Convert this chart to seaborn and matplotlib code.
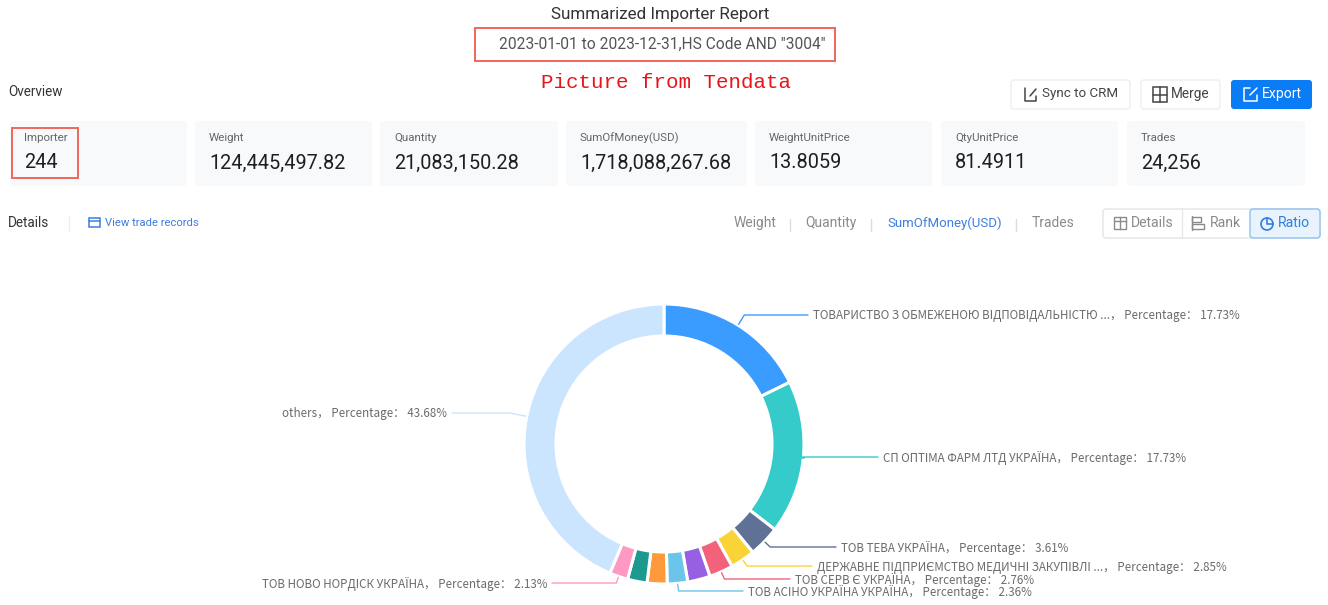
import matplotlib
matplotlib.use('Agg')
import matplotlib.pyplot as plt
import numpy as np
import seaborn as sns
from matplotlib.patches import FancyBboxPatch, Rectangle

# Data
card_names = ['Importer', 'Weight', 'Quantity', 'SumOfMoney(USD)', 'WeightUnitPrice', 'QtyUnitPrice', 'Trades']
card_values = ['244', '124,445,497.82', '21,083,150.28', '1,718,088,267.68', '13.8059', '81.4911', '24,256']
tab_names = ['Weight', 'Quantity', 'SumOfMoney(USD)', 'Trades']
slice_names = ['ТОВАРИСТВО З ОБМЕЖЕНОЮ ВІДПОВІДАЛЬНІСТЮ ...', 'СП ОПТІМА ФАРМ ЛТД УКРАЇНА', 'ТОВ ТЕВА УКРАЇНА',
               'ДЕРЖАВНЕ ПІДПРИЄМСТВО МЕДИЧНІ ЗАКУПІВЛІ ...', 'ТОВ СЕРВ Є УКРАЇНА', '', 'ТОВ АСІНО УКРАЇНА УКРАЇНА',
               '', '', 'ТОВ НОВО НОРДІСК УКРАЇНА', 'others']
slice_values = [17.73, 17.73, 3.61, 2.85, 2.76, 2.60, 2.36, 2.30, 2.25, 2.13, 43.68]
slice_colors = ['#3a9cff', '#36cbcb', '#5f7195', '#fad337', '#f2637b', '#975fe4', '#6bc5ea',
                '#ff9a3c', '#1d9a90', '#ff99c3', '#cce5ff']

# Layout (pixels, y measured from top of the picture)
W, H = 1328, 605
card_x = [(10, 187), (195, 372), (380, 558), (566, 747), (755, 932), (941, 1118), (1127, 1305)]
tab_x = [734, 805, 887, 1032]
label_y = [315, 457, 547, 566, 579, 0, 591, 0, 0, 583, 413]
line_end = [808, 878, 836, 812, 790, 0, 743, 0, 0, 552, 452]
cx, cy, outer, ring = 664, 444, 140, 32

sns.set_theme(style='white')
plt.rcParams['font.family'] = ['Roboto', 'DejaVu Sans']

fig = plt.figure(figsize=(W / 100, H / 100), dpi=100)
ax = fig.add_axes([0, 0, 1, 1])


def Y(py):
    return H - py


def label(x, py, s, size=12.5, color='#5f6368', **kw):
    # size is in pixels, Roboto sits about a pixel high when centred
    kw.setdefault('va', 'center')
    ax.text(x, Y(py + 1), s, fontsize=size * 0.72, color=color, **kw)


def box(x0, y0, x1, y1, fc='white', ec='none', lw=1, rad=3):
    ax.add_patch(FancyBboxPatch((x0, Y(y1)), x1 - x0, y1 - y0, boxstyle=f'round,pad=0,rounding_size={rad}',
                                fc=fc, ec=ec, lw=lw))


def red_box(x0, y0, x1, y1):
    ax.add_patch(Rectangle((x0, Y(y1)), x1 - x0, y1 - y0, fc='none', ec='#f0665c', lw=1.4))


# Donut
wedges, _ = ax.pie(slice_values, colors=slice_colors, startangle=90, counterclock=False,
                   center=(cx, Y(cy)), radius=outer, frame=False,
                   wedgeprops={'width': ring, 'edgecolor': 'white', 'linewidth': 2.2})
ax.set_xlim(0, W)
ax.set_ylim(0, H)
ax.set_aspect('auto')
ax.axis('off')

# Leader lines and labels
for w, name, val, ly, end, col in zip(wedges, slice_names, slice_values, label_y, line_end, slice_colors):
    if not name:
        continue
    a = np.deg2rad((w.theta1 + w.theta2) / 2)
    sx, sy = cx + (outer + 1) * np.cos(a), cy - (outer + 1) * np.sin(a)
    # elbow where the radial line reaches the label height
    if abs(np.sin(a)) > 0.05:
        ex = cx + (cy - ly) / np.sin(a) * np.cos(a)
    else:
        ex = sx
    if abs(ex - cx) < outer * 0.8 and abs(np.cos(a)) < 0.3:
        ex = sx + 1
    ax.plot([sx, ex, end], [Y(sy), Y(ly), Y(ly)], color=col, lw=1, solid_joinstyle='round')
    txt = f'{name}， Percentage： {val:.2f}%'
    if end > cx:
        label(end + 5, ly, txt, size=11.6, color='#6b6b6b', family=['Noto Sans CJK SC', 'DejaVu Sans'])
    else:
        label(end - 5, ly, txt, size=11.6, color='#6b6b6b', ha='right', family=['Noto Sans CJK SC', 'DejaVu Sans'])

# Header
label(660.5, 13, 'Summarized Importer Report', size=17, color='#333333', ha='center')
label(662, 43, '2023-01-01 to 2023-12-31,HS Code AND "3004"', size=15.5, color='#555555', ha='center')
red_box(475, 28, 835, 61)
label(666, 81, 'Picture from Tendata', size=20.8, color='#e8141c', ha='center', family=['Liberation Mono'])
label(8, 91, 'Overview', size=13.5, color='#333333')

# Buttons
box(1011, 80, 1130, 109, ec='#eeeeee')
label(1042, 93, 'Sync to CRM', size=13.4, color='#444444')
ax.plot([1025, 1025, 1036, 1036], [Y(88), Y(101), Y(101), Y(96)], color='#444444', lw=1.1)
ax.plot([1030, 1036], [Y(96), Y(89)], color='#444444', lw=1.1)
box(1141, 80, 1220, 109, ec='#eeeeee')
label(1171, 93, 'Merge', size=13.6, color='#444444')
ax.add_patch(Rectangle((1153, Y(102)), 14, 15, fc='none', ec='#444444', lw=1.1))
ax.plot([1160, 1160], [Y(87), Y(102)], color='#444444', lw=1.1)
ax.plot([1153, 1167], [Y(94.5), Y(94.5)], color='#444444', lw=1.1)
box(1231, 80, 1312, 109, fc='#0a7cf5')
label(1262, 93, 'Export', size=14, color='white')
ax.plot([1250, 1244, 1244, 1257, 1257], [Y(88), Y(88), Y(101), Y(101), Y(95)], color='white', lw=1.1)
ax.plot([1250, 1257], [Y(95), Y(88)], color='white', lw=1.1)

# Summary cards
for (x0, x1), name, val in zip(card_x, card_names, card_values):
    box(x0, 121, x1, 186, fc='#f8f9fb', rad=4)
    label(x0 + 14, 137, name, size=11.5, color='#666666')
    label(x0 + 14, 162, val, size=19.9, color='#1f1f1f')
red_box(12, 128, 78, 178)

# Details row
label(8, 222, 'Details', size=13.5, color='#333333')
ax.plot([69, 69], [Y(216), Y(231)], color='#eeeeee', lw=1)
ax.add_patch(Rectangle((89, Y(227)), 11, 9, fc='none', ec='#3f7de0', lw=1.1))
ax.plot([89, 100], [Y(221), Y(221)], color='#3f7de0', lw=1.1)
label(105, 222, 'View trade records', size=11.3, color='#3f7de0')

for x, name in zip(tab_x, tab_names):
    if name == 'SumOfMoney(USD)':
        label(x, 222, name, size=13.2, color='#3f7de0')
    else:
        label(x, 222, name, size=13.9, color='#8a8a8a')
for x in [790, 871, 1016]:
    ax.plot([x, x], [Y(219), Y(231)], color='#dddddd', lw=1)

# Details / Rank / Ratio switch
box(1103, 209, 1320, 238, ec='#e4e4e4')
box(1250, 209, 1320, 238, fc='#e8f3fd', ec='#8fc1ef')
ax.plot([1182, 1182], [Y(209), Y(238)], color='#e8e8e8', lw=1)
label(1131, 222, 'Details', size=14, color='#8a8a8a')
label(1210, 222, 'Rank', size=14, color='#8a8a8a')
label(1278, 222, 'Ratio', size=14, color='#2f7fe0')
ax.add_patch(Rectangle((1114, Y(229)), 12, 12, fc='none', ec='#8a8a8a', lw=1))
ax.plot([1114, 1126], [Y(221), Y(221)], color='#8a8a8a', lw=1)
ax.plot([1120, 1120], [Y(217), Y(229)], color='#8a8a8a', lw=1)
ax.plot([1192, 1192], [Y(216), Y(230)], color='#8a8a8a', lw=1)
ax.add_patch(Rectangle((1192, Y(222)), 9, 5, fc='none', ec='#8a8a8a', lw=1))
ax.add_patch(Rectangle((1192, Y(229)), 12, 5, fc='none', ec='#8a8a8a', lw=1))
ax.add_patch(plt.Circle((1267, Y(224)), 6, fc='none', ec='#2f7fe0', lw=1.2))
ax.plot([1267, 1267, 1273], [Y(218), Y(224), Y(224)], color='#2f7fe0', lw=1.2)

fig.savefig('out.png', dpi=100, facecolor='white')
